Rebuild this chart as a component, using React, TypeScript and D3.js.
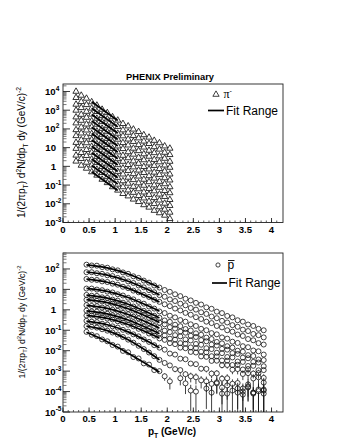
import React from 'react';
import * as d3 from 'd3';

// ---------- data (values are log10 of 1/(2πpT) d²N/dpT dy) ----------
const piPt = [0.25, 0.35, 0.45, 0.55, 0.65, 0.75, 0.85, 0.95, 1.05, 1.15, 1.25, 1.35, 1.45, 1.55, 1.65, 1.75, 1.85, 1.95, 2.05];
const piLog: number[][] = [
  [4.00, 3.79, 3.63, 3.44, 3.26, 3.04, 2.86, 2.64, 2.46, 2.28, 2.15, 1.98, 1.85, 1.68, 1.55, 1.38, 1.25, 1.08, 0.96],
  [3.67, 3.45, 3.29, 3.10, 2.92, 2.70, 2.52, 2.30, 2.12, 1.94, 1.81, 1.64, 1.51, 1.34, 1.21, 1.04, 0.91, 0.74, 0.62],
  [3.31, 3.13, 2.93, 2.78, 2.56, 2.38, 2.16, 1.98, 1.76, 1.62, 1.45, 1.32, 1.15, 1.02, 0.85, 0.72, 0.55, 0.42, 0.26],
  [2.99, 2.77, 2.61, 2.42, 2.24, 2.02, 1.84, 1.62, 1.44, 1.26, 1.13, 0.96, 0.83, 0.66, 0.53, 0.36, 0.23, 0.06, -0.06],
  [2.63, 2.45, 2.25, 2.10, 1.88, 1.70, 1.48, 1.30, 1.08, 0.94, 0.77, 0.64, 0.47, 0.34, 0.17, 0.04, -0.13, -0.26, -0.42],
  [2.31, 2.09, 1.93, 1.74, 1.56, 1.34, 1.16, 0.94, 0.76, 0.58, 0.45, 0.28, 0.15, -0.02, -0.15, -0.32, -0.45, -0.62, -0.74],
  [1.95, 1.77, 1.57, 1.42, 1.20, 1.02, 0.80, 0.62, 0.40, 0.26, 0.09, -0.04, -0.21, -0.34, -0.51, -0.64, -0.81, -0.94, -1.10],
  [1.63, 1.41, 1.25, 1.06, 0.88, 0.66, 0.48, 0.26, 0.08, -0.10, -0.23, -0.40, -0.53, -0.70, -0.83, -1.00, -1.13, -1.30, -1.42],
  [1.27, 1.09, 0.89, 0.74, 0.52, 0.34, 0.12, -0.06, -0.28, -0.42, -0.59, -0.72, -0.89, -1.02, -1.19, -1.32, -1.49, -1.62, -1.78],
  [0.95, 0.73, 0.57, 0.38, 0.20, -0.02, -0.20, -0.42, -0.60, -0.78, -0.91, -1.08, -1.21, -1.38, -1.51, -1.68, -1.81, -1.98, -2.10],
  [0.59, 0.41, 0.21, 0.06, -0.16, -0.34, -0.56, -0.74, -0.96, -1.10, -1.27, -1.40, -1.57, -1.70, -1.87, -2.00, -2.17, -2.30, -2.46],
  [0.27, 0.05, -0.11, -0.30, -0.48, -0.70, -0.88, -1.10, -1.28, -1.46, -1.59, -1.76, -1.89, -2.06, -2.19, -2.36, -2.49, -2.62, -2.80],
];
const piFitPt = [0.55, 1.05];
const piFitLog: number[][] = [
  [3.45, 2.45], [3.11, 2.11], [2.77, 1.77], [2.43, 1.43], [2.09, 1.09], [1.75, 0.75],
  [1.41, 0.41], [1.07, 0.07], [0.73, -0.27], [0.39, -0.61], [0.05, -0.95], [-0.29, -1.29],
];

const pbarPt = [0.45, 0.55, 0.65, 0.75, 0.85, 0.95, 1.05, 1.15, 1.25, 1.35, 1.45, 1.55, 1.65, 1.75, 1.85,
  1.95, 2.05, 2.15, 2.25, 2.35, 2.45, 2.55, 2.65, 2.75, 2.85, 2.95, 3.05, 3.15, 3.25, 3.35, 3.45, 3.55, 3.65, 3.75, 3.85];
const pbarLog: (number | null)[][] = [
  [2.21, 2.17, 2.16, 2.09, 2.06, 1.98, 1.93, 1.83, 1.76, 1.64, 1.56, 1.43, 1.33, 1.19, 1.09, 0.97, 0.88, 0.76, 0.67, 0.54, 0.46, 0.34, 0.26, 0.12, 0.05, -0.09, -0.16, -0.30, -0.37, -0.51, -0.58, -0.72, -0.79, -0.93, -1.00],
  [1.84, 1.84, 1.79, 1.76, 1.69, 1.65, 1.56, 1.50, 1.39, 1.31, 1.19, 1.10, 0.96, 0.86, 0.72, 0.64, 0.51, 0.43, 0.30, 0.22, 0.09, 0.01, -0.12, -0.20, -0.33, -0.41, -0.54, -0.62, -0.75, -0.83, -0.97, -1.04, -1.18, -1.24, -1.35],
  [1.51, 1.47, 1.46, 1.39, 1.36, 1.28, 1.23, 1.13, 1.06, 0.94, 0.86, 0.73, 0.63, 0.49, 0.39, 0.27, 0.18, 0.06, -0.03, -0.15, -0.24, -0.36, -0.45, -0.58, -0.65, -0.79, -0.86, -1.00, -1.07, -1.21, -1.28, -1.43, -1.49, -1.63, -1.70],
  [1.04, 1.04, 0.99, 0.96, 0.89, 0.85, 0.76, 0.70, 0.59, 0.51, 0.39, 0.30, 0.16, 0.06, -0.08, -0.16, -0.29, -0.37, -0.50, -0.58, -0.71, -0.79, -0.93, -1.00, -1.14, -1.20, -1.35, -1.41, -1.56, -1.62, -1.78, -1.83, -1.99, -2.03, -2.19],
  [0.73, 0.69, 0.68, 0.61, 0.58, 0.50, 0.45, 0.35, 0.28, 0.16, 0.08, -0.05, -0.15, -0.29, -0.39, -0.52, -0.59, -0.73, -0.80, -0.94, -1.01, -1.15, -1.22, -1.36, -1.43, -1.57, -1.64, -1.78, -1.85, -2.00, -2.05, -2.22, -2.26, -2.43, -2.46],
  [0.49, 0.49, 0.44, 0.41, 0.34, 0.30, 0.21, 0.15, 0.04, -0.04, -0.16, -0.25, -0.39, -0.49, -0.63, -0.71, -0.85, -0.92, -1.06, -1.12, -1.27, -1.33, -1.48, -1.54, -1.70, -1.75, -1.91, -1.95, -2.12, -2.16, -2.34, -2.37, -2.55, -2.58, -2.76],
  [0.23, 0.19, 0.18, 0.11, 0.08, 0.00, -0.05, -0.15, -0.22, -0.34, -0.42, -0.55, -0.65, -0.79, -0.89, -1.02, -1.09, -1.24, -1.30, -1.45, -1.50, -1.67, -1.71, -1.88, -1.92, -2.10, -2.12, -2.31, -2.33, -2.53, -2.55, -2.75, -2.74, -2.96, -2.95],
  [-0.04, -0.08, -0.09, -0.16, -0.19, -0.27, -0.32, -0.42, -0.49, -0.61, -0.69, -0.82, -0.92, -1.06, -1.16, -1.25, -1.41, -1.46, -1.63, -1.66, -1.84, -1.87, -2.05, -2.08, -2.27, -2.28, -2.48, -2.49, -2.70, -2.69, -2.92, -2.90, -3.12, -3.10, -3.33],
  [-0.28, -0.28, -0.33, -0.36, -0.43, -0.47, -0.56, -0.62, -0.73, -0.81, -0.93, -1.02, -1.16, -1.26, -1.40, -1.47, -1.63, -1.68, -1.85, -1.88, -2.06, -2.09, -2.28, -2.30, -2.50, -2.49, -2.71, -2.70, -2.93, -2.90, -3.14, -3.10, -3.36, -3.30, -3.56],
  [-0.54, -0.58, -0.60, -0.68, -0.72, -0.81, -0.87, -0.98, -1.07, -1.20, -1.30, -1.45, -1.57, -1.73, -1.85, -1.95, -2.14, -2.19, -2.39, -2.42, -2.63, -2.66, -2.88, -2.89, -3.12, -3.11, -3.37, -3.35, -3.62, -3.58, -3.85, -3.80, -4.05, -3.98, -4.10],
  [-0.80, -0.83, -0.87, -0.95, -1.02, -1.11, -1.21, -1.33, -1.46, -1.61, -1.76, -1.92, -2.09, -2.27, -2.45, -2.60, -2.72, -2.90, -2.95, -3.15, -3.25, -3.30, -3.45, -3.50, -3.62, -3.55, -3.80, -3.70, -3.95, -3.85, -4.00, -3.75, -4.10, -3.90, -3.95],
  [-1.08, -1.22, -1.29, -1.45, -1.54, -1.72, -1.80, -2.01, -2.08, -2.31, -2.38, -2.62, -2.68, -2.95, -3.00, -3.25, -3.50, null, -3.35, -3.60, -3.95, -4.00, null, -3.85, -4.05, -3.60, -4.10, -4.10, null, -4.05, -4.15, -3.65, -4.05, null, -3.90],
];
// relative errors for the high-pT part (pT >= 1.95), per series; empty = negligible
const pbarErrHigh: number[][] = [
  [], [], [], [], [], [], [],
  [0.05, 0.05, 0.06, 0.07, 0.08, 0.09, 0.1, 0.12, 0.14, 0.16, 0.18, 0.2, 0.23, 0.26, 0.3, 0.34, 0.38, 0.42, 0.46, 0.5],
  [0.06, 0.07, 0.08, 0.09, 0.1, 0.12, 0.14, 0.16, 0.19, 0.22, 0.25, 0.3, 0.34, 0.4, 0.45, 0.5, 0.55, 0.6, 0.65, 0.7],
  [0.08, 0.1, 0.12, 0.14, 0.16, 0.2, 0.24, 0.28, 0.33, 0.4, 0.45, 0.52, 0.58, 0.65, 0.7, 0.75, 0.8, 0.85, 0.9, 0.95],
  [0.2, 0.25, 0.3, 0.35, 0.4, 0.5, 0.55, 0.6, 0.7, 0.75, 0.7, 0.85, 0.8, 0.95, 0.9, 1.0, 0.8, 1.0, 0.95, 1.0],
  [0.4, 0.6, 0, 0.55, 0.7, 0.9, 1.0, 0, 0.9, 1.0, 0.7, 1.0, 1.0, 0, 1.0, 1.0, 0.75, 1.0, 0, 0.95],
];
const pbarHighStart = 15;
const pbarFitPt = [0.45, 0.85, 1.25, 1.65, 1.85];
const pbarFitLog: number[][] = [
  [2.20, 2.05, 1.75, 1.32, 1.08],
  [1.85, 1.70, 1.40, 0.97, 0.73],
  [1.50, 1.35, 1.05, 0.62, 0.38],
  [1.05, 0.90, 0.60, 0.17, -0.07],
  [0.72, 0.57, 0.27, -0.16, -0.40],
  [0.50, 0.35, 0.05, -0.38, -0.62],
  [0.22, 0.07, -0.23, -0.66, -0.90],
  [-0.05, -0.20, -0.50, -0.93, -1.17],
  [-0.27, -0.42, -0.72, -1.15, -1.39],
  [-0.55, -0.73, -1.08, -1.58, -1.86],
  [-0.80, -1.02, -1.46, -2.09, -2.45],
  [-1.10, -1.56, -2.12, -2.73, -3.05],
];

const xTicks = [0, 0.5, 1, 1.5, 2, 2.5, 3, 3.5, 4];
const topExps = [-3, -2, -1, 0, 1, 2, 3, 4];
const botExps = [-5, -4, -3, -2, -1, 0, 1, 2];

// ---------- layout ----------
const FONT = 'Liberation Sans, Arial, Helvetica, sans-serif';
const X0 = 63, X1 = 283;
const TICK_FS = 9.6;

type Seg = { t: string; s?: 'sup' | 'sub' };

function Rich({ segs, size, ...rest }: { segs: Seg[]; size: number; [k: string]: any }) {
  let cur = 0;
  return (
    <text fontSize={size} {...rest}>
      {segs.map((sg, i) => {
        let target = 0;
        if (sg.s === 'sup') target = -size * 0.42;
        if (sg.s === 'sub') target = size * 0.25;
        const dy = target - cur;
        cur = target;
        return (
          <tspan key={i} dy={dy} fontSize={sg.s ? size * 0.68 : size}>{sg.t}</tspan>
        );
      })}
    </text>
  );
}

const yTitle: Seg[] = [
  { t: '1/(2πp' }, { t: 'T', s: 'sub' }, { t: ') d' }, { t: '2', s: 'sup' }, { t: 'N/dp' }, { t: 'T', s: 'sub' },
  { t: ' dy (GeV/c)' }, { t: '-2', s: 'sup' },
];

function Axes({ y, exps, top, bottom, titleSize, titleCenter }: any) {
  const x = d3.scaleLinear().domain([0, 4.22]).range([X0, X1]);
  const [lo, hi] = y.domain();
  const minor: number[] = [];
  for (let e = Math.floor(Math.log10(lo)); e <= Math.ceil(Math.log10(hi)); e++) {
    for (let k = 2; k <= 9; k++) {
      const v = k * Math.pow(10, e);
      if (v > lo && v < hi) minor.push(v);
    }
  }
  const xMinor = d3.range(0, 42).map((i) => i / 10).filter((v) => v <= 4.22);
  return (
    <g>
      <rect x={X0} y={top} width={X1 - X0} height={bottom - top} fill="none" stroke="#222" strokeWidth={0.9} />
      {minor.map((v, i) => (
        <line key={'m' + i} x1={X0} x2={X0 + 3.5} y1={y(v)} y2={y(v)} stroke="#555" strokeWidth={0.8} />
      ))}
      {exps.map((e: number) => {
        const v = Math.pow(10, e);
        const yy = y(v);
        let segs: Seg[];
        if (e === 0) segs = [{ t: '1' }];
        else if (e === 1) segs = [{ t: '10' }];
        else segs = [{ t: '10' }, { t: String(e), s: 'sup' }];
        return (
          <g key={'e' + e}>
            <line x1={X0} x2={X0 + 7} y1={yy} y2={yy} stroke="#222" strokeWidth={0.9} />
            <Rich segs={segs} size={TICK_FS} x={e === 0 || e === 1 ? 56 : 45} y={yy + 3.5}
              textAnchor={e === 0 || e === 1 ? 'end' : 'start'} fontFamily={FONT} fontWeight="bold" fill="#000" />
          </g>
        );
      })}
      {xMinor.map((v, i) => (
        <line key={'xm' + i} x1={x(v)} x2={x(v)} y1={bottom} y2={bottom - 2} stroke="#333" strokeWidth={0.8} />
      ))}
      {xTicks.map((v) => (
        <g key={'xt' + v}>
          <line x1={x(v)} x2={x(v)} y1={bottom} y2={bottom - 4.5} stroke="#222" strokeWidth={0.9} />
          <text x={x(v)} y={bottom + 10} textAnchor="middle" fontSize={TICK_FS} fontWeight="bold" fontFamily={FONT}>{String(v)}</text>
        </g>
      ))}
      <Rich segs={yTitle} size={titleSize} fontFamily={FONT} textAnchor="middle"
        transform={`translate(25,${titleCenter}) rotate(-90)`} x={0} y={0} fill="#000" />
    </g>
  );
}

export default function App() {
  const x = d3.scaleLinear().domain([0, 4.22]).range([X0, X1]);
  const yTop = d3.scaleLog().domain([1e-3, Math.pow(10, 4.4)]).range([222.5, 84]);
  const yBot = d3.scaleLog().domain([1e-5, Math.pow(10, 2.78)]).range([412, 253]);
  const tri = d3.symbol(d3.symbolTriangle, 17)()!;
  const lineTop = d3.line<number>().x((_, i) => x(piFitPt[i])).y((v) => yTop(Math.pow(10, v)));
  const lineBot = d3.line<number>().x((_, i) => x(pbarFitPt[i])).y((v) => yBot(Math.pow(10, v))).curve(d3.curveMonotoneX);
  const R = 2.5;

  return (
    <svg width={340} height={440} style={{ position: 'absolute', left: 0, top: 0, background: '#fff' }}>
      <rect x={0} y={0} width={340} height={440} fill="#fff" />
      <defs>
        <clipPath id="clipBot"><rect x={X0} y={253} width={X1 - X0} height={412 - 253} /></clipPath>
      </defs>
      <text x={170} y={79.5} textAnchor="middle" fontSize={9.3} fontWeight="bold" fontFamily={FONT}>PHENIX Preliminary</text>

      {/* ---------- top panel: pi- ---------- */}
      <Axes y={yTop} exps={topExps} top={84} bottom={222.5} titleSize={10} titleCenter={152.5} />
      <g>
        {piLog.map((ser, si) =>
          ser.map((v, j) => (
            <path key={si + '-' + j} d={tri} transform={`translate(${x(piPt[j])},${yTop(Math.pow(10, v))})`}
              fill="none" stroke="#111" strokeWidth={0.85} />
          ))
        )}
        {piFitLog.map((f, si) => (
          <path key={'f' + si} d={lineTop(f) || ''} fill="none" stroke="#000" strokeWidth={1.8} />
        ))}
      </g>
      {/* legend */}
      <path d={tri} transform="translate(216,94.5)" fill="none" stroke="#111" strokeWidth={0.8} />
      <text x={223.5} y={98} fontSize={12} fontFamily="Liberation Serif, Times New Roman, serif">π<tspan dy={-5} fontSize={7} fontFamily={FONT}>-</tspan></text>
      <line x1={208} x2={224} y1={110.5} y2={110.5} stroke="#000" strokeWidth={1.7} />
      <text x={226} y={115} fontSize={12} fontFamily={FONT}>Fit Range</text>

      {/* ---------- bottom panel: pbar ---------- */}
      <Axes y={yBot} exps={botExps} top={253} bottom={412} titleSize={8.6} titleCenter={322} />
      <g clipPath="url(#clipBot)">
        {pbarLog.map((ser, si) =>
          ser.map((v, j) => {
            if (v === null) return null;
            const cx = x(pbarPt[j]);
            const val = Math.pow(10, v);
            const cy = yBot(val);
            const errs = pbarErrHigh[si];
            const sig = j >= pbarHighStart && errs.length ? errs[j - pbarHighStart] : 0;
            const yHi = yBot(val * (1 + sig));
            const yLo = sig >= 1 ? 420 : yBot(val * (1 - sig));
            return (
              <g key={si + '-' + j}>
                {sig > 0 && cy - yHi > R && <line x1={cx} x2={cx} y1={yHi} y2={cy - R} stroke="#111" strokeWidth={0.8} />}
                {sig > 0 && yLo - cy > R && <line x1={cx} x2={cx} y1={cy + R} y2={yLo} stroke="#111" strokeWidth={0.8} />}
                <circle cx={cx} cy={cy} r={R} fill="none" stroke="#111" strokeWidth={0.8} />
              </g>
            );
          })
        )}
        {pbarFitLog.map((f, si) => (
          <path key={'pf' + si} d={lineBot(f) || ''} fill="none" stroke="#000" strokeWidth={1.7} />
        ))}
      </g>
      {/* legend */}
      <circle cx={218} cy={265} r={2.1} fill="none" stroke="#111" strokeWidth={0.8} />
      <text x={227.5} y={268.5} fontSize={12} fontFamily={FONT}>p</text>
      <line x1={228} x2={234.5} y1={260.5} y2={260.5} stroke="#000" strokeWidth={0.9} />
      <line x1={212} x2={227} y1={283} y2={283} stroke="#000" strokeWidth={1.7} />
      <text x={228.5} y={287.3} fontSize={12} fontFamily={FONT}>Fit Range</text>

      <Rich segs={[{ t: 'p' }, { t: 'T', s: 'sub' }, { t: ' (GeV/c)' }]} size={10} x={172} y={435}
        textAnchor="middle" fontFamily={FONT} fontWeight="bold" fill="#000" />
    </svg>
  );
}
